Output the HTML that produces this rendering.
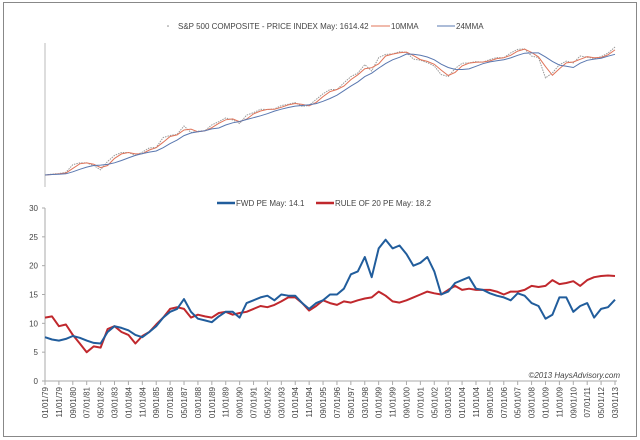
<!DOCTYPE html>
<html><head><meta charset="utf-8">
<style>
html,body{margin:0;padding:0;background:#fff;}
#wrap{position:relative;width:640px;height:440px;overflow:hidden;font-family:"Liberation Sans",sans-serif;}
svg text{font-family:"Liberation Sans",sans-serif;}
</style></head>
<body>
<div id="wrap">
<svg id="svg" width="640" height="440" xmlns="http://www.w3.org/2000/svg">
<rect x="3.5" y="2.5" width="633" height="434" fill="#fff" stroke="#888" stroke-width="1"/>
</svg>
</div>
<script>
// sampled every 5 months starting Jan 1979
const fwdPE = [7.6,7.2,7.0,7.3,7.8,7.5,7.0,6.6,6.5,8.5,9.5,9.2,8.8,8.0,7.6,8.5,9.5,11.0,12.0,12.5,14.2,12.0,10.8,10.5,10.2,11.2,12.0,12.0,11.0,13.5,14.0,14.5,14.8,14.0,15.0,14.8,14.8,13.5,12.5,13.5,14.0,15.0,15.0,16.0,18.5,19.0,21.5,18.0,23.0,24.5,23.0,23.5,22.0,20.0,20.5,21.5,19.0,15.0,15.5,17.0,17.5,18.0,16.0,15.8,15.2,14.8,14.5,14.0,15.2,14.8,13.5,13.0,10.8,11.5,14.5,14.5,12.0,13.0,13.5,11.0,12.5,12.8,14.1];
const rule20PE = [11.0,11.2,9.5,9.8,8.0,6.5,5.0,6.0,5.8,9.0,9.5,8.5,8.0,6.5,7.8,8.5,9.8,11.0,12.5,12.8,12.5,11.0,11.5,11.2,11.0,11.8,12.0,11.5,11.8,12.0,12.5,13.0,12.8,13.2,13.8,14.5,14.5,13.5,12.2,13.0,14.0,13.5,13.2,13.8,13.6,14.0,14.3,14.5,15.5,14.8,13.8,13.6,14.0,14.5,15.0,15.5,15.2,15.0,15.8,16.5,15.8,16.0,15.8,15.8,15.8,15.5,15.0,15.5,15.5,15.8,16.5,16.3,16.5,17.5,16.8,17.0,17.3,16.5,17.5,18.0,18.2,18.3,18.2];
const spx = [100,102,103,106,125,130,130,123,112,134,153,163,163,153,164,180,182,226,236,242,290,252,259,262,297,318,346,331,306,367,387,417,415,419,452,464,482,444,454,515,584,640,640,740,848,914,1101,957,1280,1373,1389,1452,1436,1240,1211,1148,1067,886,849,1008,1131,1141,1174,1156,1228,1280,1276,1418,1530,1549,1322,1282,825,919,1095,1186,1141,1327,1292,1257,1310,1412,1614];
const yTicks = [0,5,10,15,20,25,30];
const xLabels = ["01/01/79","11/01/79","09/01/80","07/01/81","05/01/82","03/01/83","01/01/84","11/01/84","09/01/85","07/01/86","05/01/87","03/01/88","01/01/89","11/01/89","09/01/90","07/01/91","05/01/92","03/01/93","01/01/94","11/01/94","09/01/95","07/01/96","05/01/97","03/01/98","01/01/99","11/01/99","09/01/00","07/01/01","05/01/02","03/01/03","01/01/04","11/01/04","09/01/05","07/01/06","05/01/07","03/01/08","01/01/09","11/01/09","09/01/10","07/01/11","05/01/12","03/01/13"];

const NS="http://www.w3.org/2000/svg";
const svg=document.getElementById('svg');
function mk(tag,attrs,parent){const e=document.createElementNS(NS,tag);for(const k in attrs)e.setAttribute(k,attrs[k]);(parent||svg).appendChild(e);return e;}

const X0=45, X1=615, MONTHS=410;
const xM = m => X0 + (X1-X0)*m/MONTHS;
const xI = i => xM(i*5);
// lower chart
const Y0=381, Y30=208;
const yPE = v => Y0 - (Y0-Y30)*v/30;
// upper chart (log)
const yS = v => 175 - 106*Math.log10(v/100);

// upper axis line
let e=mk('line',{x1:X0,y1:43,x2:X0,y2:187,stroke:'#bbb','stroke-width':1});



function ma(arr,n){return arr.map((v,i)=>{const s=arr.slice(Math.max(0,i-n+1),i+1);return s.reduce((a,b)=>a+b,0)/s.length;});}
function path(arr,yf){return arr.map((v,i)=>(i?'L':'M')+xI(i).toFixed(1)+' '+yf(v).toFixed(1)).join(' ');}

e=mk('path',{d:path(spx,yS),fill:'none',stroke:'#999','stroke-width':1,'stroke-dasharray':'1.5 1'});


e=mk('path',{d:path(ma(spx,2),yS),fill:'none',stroke:'#e0745a','stroke-width':1});


e=mk('path',{d:path(ma(spx,5),yS),fill:'none',stroke:'#5a78b0','stroke-width':1});



// upper legend
let g=mk('g',{});


mk('circle',{cx:168,cy:26,r:0.8,fill:'#888'},g);
mk('text',{x:178,y:29,'font-size':8,fill:'#444'},g).textContent='S&P 500 COMPOSITE - PRICE INDEX May: 1614.42';
mk('line',{x1:371,y1:26,x2:390,y2:26,stroke:'#e0745a','stroke-width':1},g);
mk('text',{x:391,y:29,'font-size':8,fill:'#444'},g).textContent='10MMA';
mk('line',{x1:437,y1:26,x2:455,y2:26,stroke:'#5a78b0','stroke-width':1},g);
mk('text',{x:456,y:29,'font-size':8,fill:'#444'},g).textContent='24MMA';

// lower axes
e=mk('line',{x1:X0,y1:Y30,x2:X0,y2:Y0,stroke:'#aaa','stroke-width':1});


e=mk('line',{x1:X0,y1:Y0,x2:X1+2,y2:Y0,stroke:'#aaa','stroke-width':1});


yTicks.forEach(t=>{
  mk('line',{x1:X0-3,y1:yPE(t),x2:X0,y2:yPE(t),stroke:'#aaa'});
  const tx=mk('text',{x:38,y:yPE(t)+3,'font-size':8,fill:'#444','text-anchor':'end'});
  tx.textContent=t;
  
  
});
xLabels.forEach((l,i)=>{
  const x=xM(i*10);
  mk('line',{x1:x,y1:Y0,x2:x,y2:Y0+4,stroke:'#aaa'});
  const tx=mk('text',{x:0,y:0,'font-size':8,fill:'#444','text-anchor':'end',transform:`translate(${x+3},${Y0+6}) rotate(-90)`});
  tx.textContent=l;
  
  
});

e=mk('path',{d:path(rule20PE,yPE),fill:'none',stroke:'#c0282d','stroke-width':2,'stroke-linejoin':'round'});


e=mk('path',{d:path(fwdPE,yPE),fill:'none',stroke:'#215d9c','stroke-width':2,'stroke-linejoin':'round'});



g=mk('g',{});


mk('line',{x1:217,y1:203,x2:235,y2:203,stroke:'#215d9c','stroke-width':2.5},g);
mk('text',{x:236,y:206,'font-size':8,fill:'#444'},g).textContent='FWD PE May: 14.1';
mk('line',{x1:316,y1:203,x2:334,y2:203,stroke:'#c0282d','stroke-width':2.5},g);
mk('text',{x:335,y:206,'font-size':8,fill:'#444'},g).textContent='RULE OF 20 PE May: 18.2';

e=mk('text',{x:620,y:378,'font-size':8,fill:'#444','font-style':'italic','text-anchor':'end'});
e.textContent='©2013 HaysAdvisory.com';


</script>
</body></html>
